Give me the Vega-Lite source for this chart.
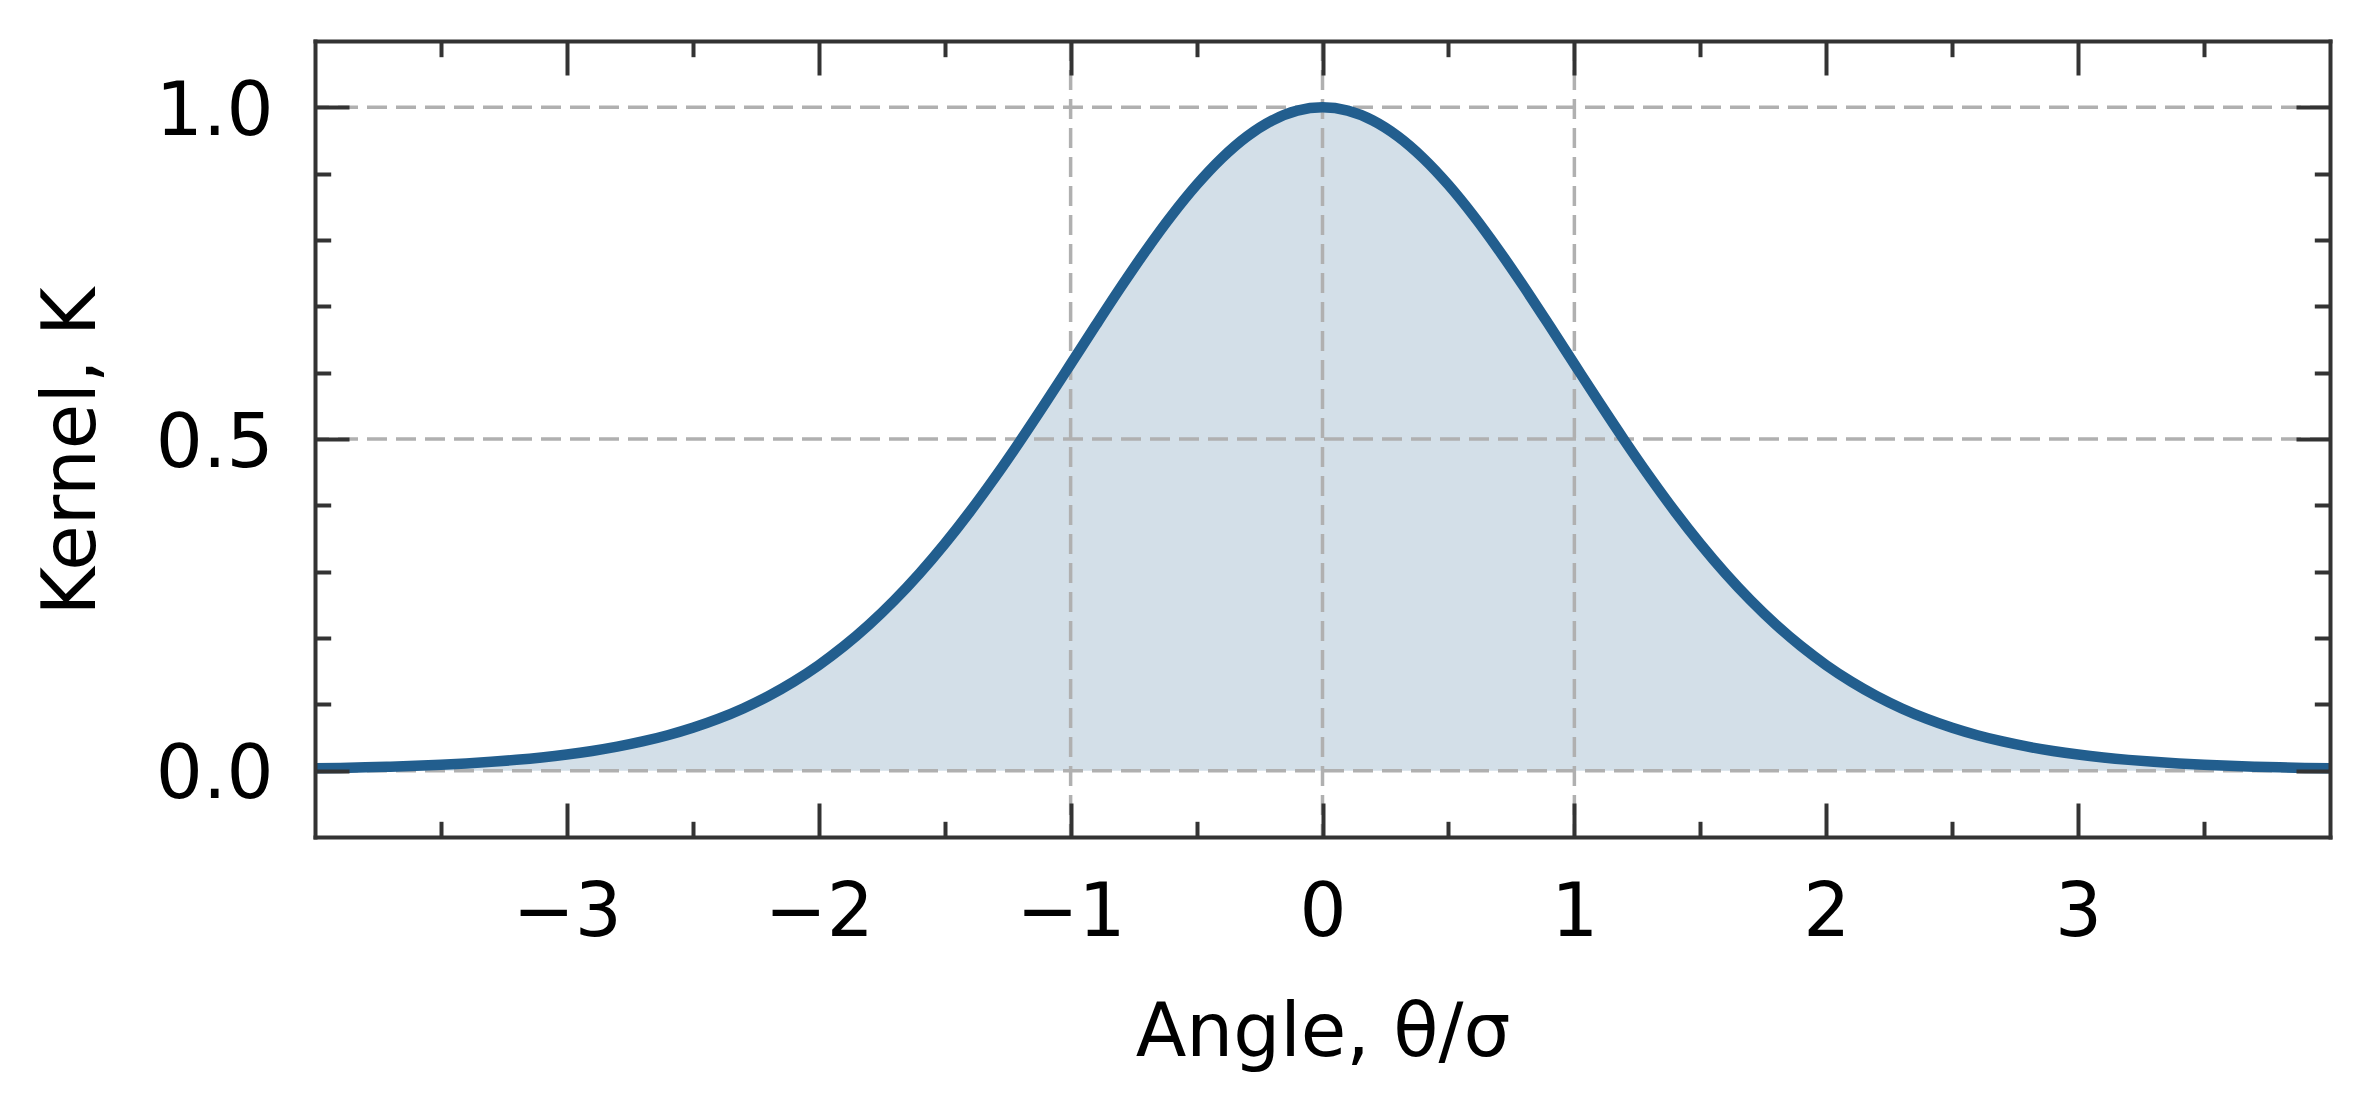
{
  "$schema": "https://vega.github.io/schema/vega-lite/v6.json",
  "width": 2015,
  "height": 796,
  "autosize": {"type": "none"},
  "padding": {"left": 315, "top": 41, "right": 39, "bottom": 259},
  "background": "white",
  "config": {
    "view": {"stroke": null},
    "font": "DejaVu Sans",
    "axis": {"grid": false, "labelFont": "DejaVu Sans", "titleFont": "DejaVu Sans", "labelColor": "#000000", "titleColor": "#000000", "titleFontWeight": "normal", "labelFontSize": 74, "titleFontSize": 74, "tickColor": "#333333", "tickWidth": 4, "domainColor": "#333333", "domainWidth": 4, "domainCap": "square", "labelFlush": false, "labelOverlap": false}
  },
  "datasets": {
    "kernel": [
      {"x": -4.0, "k": 0.003466}, {"x": -3.9, "k": 0.004166}, {"x": -3.8, "k": 0.005026}, {"x": -3.7, "k": 0.006083},
      {"x": -3.6, "k": 0.007382}, {"x": -3.5, "k": 0.008978}, {"x": -3.4, "k": 0.01094}, {"x": -3.3, "k": 0.013347},
      {"x": -3.2, "k": 0.016297}, {"x": -3.1, "k": 0.019904}, {"x": -3.0, "k": 0.024306}, {"x": -2.9, "k": 0.029659},
      {"x": -2.8, "k": 0.036148}, {"x": -2.7, "k": 0.043982}, {"x": -2.6, "k": 0.053397}, {"x": -2.5, "k": 0.064655},
      {"x": -2.4, "k": 0.078038}, {"x": -2.3, "k": 0.093851}, {"x": -2.2, "k": 0.112408}, {"x": -2.1, "k": 0.134027},
      {"x": -2.0, "k": 0.15901}, {"x": -1.9, "k": 0.187633}, {"x": -1.8, "k": 0.220125}, {"x": -1.7, "k": 0.256644},
      {"x": -1.6, "k": 0.297252}, {"x": -1.5, "k": 0.341896}, {"x": -1.4, "k": 0.390382}, {"x": -1.3, "k": 0.442345},
      {"x": -1.2, "k": 0.497252}, {"x": -1.1, "k": 0.554382}, {"x": -1.0, "k": 0.61283}, {"x": -0.9, "k": 0.671516},
      {"x": -0.8, "k": 0.729233}, {"x": -0.7, "k": 0.784654}, {"x": -0.6, "k": 0.836395}, {"x": -0.5, "k": 0.88307},
      {"x": -0.4, "k": 0.923362}, {"x": -0.3, "k": 0.956078}, {"x": -0.2, "k": 0.980215}, {"x": -0.1, "k": 0.995012},
      {"x": 0.0, "k": 1.0},
      {"x": 0.1, "k": 0.995012}, {"x": 0.2, "k": 0.980215}, {"x": 0.3, "k": 0.956078}, {"x": 0.4, "k": 0.923362},
      {"x": 0.5, "k": 0.88307}, {"x": 0.6, "k": 0.836395}, {"x": 0.7, "k": 0.784654}, {"x": 0.8, "k": 0.729233},
      {"x": 0.9, "k": 0.671516}, {"x": 1.0, "k": 0.61283}, {"x": 1.1, "k": 0.554382}, {"x": 1.2, "k": 0.497252},
      {"x": 1.3, "k": 0.442345}, {"x": 1.4, "k": 0.390382}, {"x": 1.5, "k": 0.341896}, {"x": 1.6, "k": 0.297252},
      {"x": 1.7, "k": 0.256644}, {"x": 1.8, "k": 0.220125}, {"x": 1.9, "k": 0.187633}, {"x": 2.0, "k": 0.15901},
      {"x": 2.1, "k": 0.134027}, {"x": 2.2, "k": 0.112408}, {"x": 2.3, "k": 0.093851}, {"x": 2.4, "k": 0.078038},
      {"x": 2.5, "k": 0.064655}, {"x": 2.6, "k": 0.053397}, {"x": 2.7, "k": 0.043982}, {"x": 2.8, "k": 0.036148},
      {"x": 2.9, "k": 0.029659}, {"x": 3.0, "k": 0.024306}, {"x": 3.1, "k": 0.019904}, {"x": 3.2, "k": 0.016297},
      {"x": 3.3, "k": 0.013347}, {"x": 3.4, "k": 0.01094}, {"x": 3.5, "k": 0.008978}, {"x": 3.6, "k": 0.007382},
      {"x": 3.7, "k": 0.006083}, {"x": 3.8, "k": 0.005026}, {"x": 3.9, "k": 0.004166}, {"x": 4.0, "k": 0.003466}
    ],
    "vgrid": [{"x": -1}, {"x": 0}, {"x": 1}],
    "hgrid": [{"y": 0}, {"y": 0.5}, {"y": 1}]
  },
  "resolve": {"axis": {"x": "independent", "y": "independent"}},
  "layer": [
    {
      "data": {"name": "kernel"},
      "mark": {"type": "area", "color": "#225e8e", "opacity": 0.2, "interpolate": "monotone"},
      "encoding": {
        "x": {"field": "x", "type": "quantitative", "scale": {"domain": [-4, 4], "nice": false, "zero": false},
          "axis": {"orient": "bottom", "values": [-3, -2, -1, 0, 1, 2, 3], "ticks": false, "domain": false, "labelPadding": 40, "title": "Angle, θ/σ", "titlePadding": 47}},
        "y": {"field": "k", "type": "quantitative", "scale": {"domain": [-0.1, 1.1], "nice": false, "zero": false},
          "axis": {"orient": "left", "values": [0, 0.5, 1], "format": ".1f", "ticks": false, "domain": false, "labelPadding": 42, "labelOffset": 5, "title": "Kernel, K", "titlePadding": 45, "titleY": 410}},
        "y2": {"datum": 0}
      }
    },
    {
      "data": {"name": "vgrid"},
      "mark": {"type": "rule", "color": "#b0b0b0", "strokeWidth": 3.5, "strokeDash": [20, 9]},
      "encoding": {
        "x": {"field": "x", "type": "quantitative", "scale": {"domain": [-4, 4], "nice": false, "zero": false},
          "axis": {"orient": "bottom", "values": [-3, -2, -1, 0, 1, 2, 3], "labels": false, "tickSize": -34, "domain": true, "title": null, "zindex": 1}}
      }
    },
    {
      "data": {"name": "hgrid"},
      "mark": {"type": "rule", "color": "#b0b0b0", "strokeWidth": 3.5, "strokeDash": [20, 9]},
      "encoding": {
        "y": {"field": "y", "type": "quantitative", "scale": {"domain": [-0.1, 1.1], "nice": false, "zero": false},
          "axis": {"orient": "left", "values": [0, 0.5, 1], "labels": false, "tickSize": -34, "domain": true, "title": null, "zindex": 1}}
      }
    },
    {
      "data": {"name": "kernel"},
      "mark": {"type": "line", "color": "#225e8e", "strokeWidth": 10.5, "interpolate": "monotone"},
      "encoding": {
        "x": {"field": "x", "type": "quantitative", "scale": {"domain": [-4, 4], "nice": false, "zero": false},
          "axis": {"orient": "bottom", "values": [-3.5, -2.5, -1.5, -0.5, 0.5, 1.5, 2.5, 3.5], "labels": false, "tickSize": -15.7, "domain": false, "title": null, "zindex": 1}},
        "y": {"field": "k", "type": "quantitative", "scale": {"domain": [-0.1, 1.1], "nice": false, "zero": false},
          "axis": {"orient": "left", "values": [0.1, 0.2, 0.3, 0.4, 0.6, 0.7, 0.8, 0.9], "labels": false, "tickSize": -15.7, "domain": false, "title": null, "zindex": 1}}
      }
    },
    {
      "data": {"name": "kernel"},
      "mark": {"type": "line", "opacity": 0},
      "encoding": {
        "x": {"field": "x", "type": "quantitative", "scale": {"domain": [-4, 4], "nice": false, "zero": false},
          "axis": {"orient": "top", "values": [-3, -2, -1, 0, 1, 2, 3], "labels": false, "tickSize": -34, "domain": true, "title": null, "zindex": 1}},
        "y": {"field": "k", "type": "quantitative", "scale": {"domain": [-0.1, 1.1], "nice": false, "zero": false},
          "axis": {"orient": "right", "values": [0, 0.5, 1], "labels": false, "tickSize": -34, "domain": true, "title": null, "zindex": 1}}
      }
    },
    {
      "data": {"name": "kernel"},
      "mark": {"type": "line", "opacity": 0},
      "encoding": {
        "x": {"field": "x", "type": "quantitative", "scale": {"domain": [-4, 4], "nice": false, "zero": false},
          "axis": {"orient": "top", "values": [-3.5, -2.5, -1.5, -0.5, 0.5, 1.5, 2.5, 3.5], "labels": false, "tickSize": -15.7, "domain": false, "title": null, "zindex": 1}},
        "y": {"field": "k", "type": "quantitative", "scale": {"domain": [-0.1, 1.1], "nice": false, "zero": false},
          "axis": {"orient": "right", "values": [0.1, 0.2, 0.3, 0.4, 0.6, 0.7, 0.8, 0.9], "labels": false, "tickSize": -15.7, "domain": false, "title": null, "zindex": 1}}
      }
    }
  ]
}
